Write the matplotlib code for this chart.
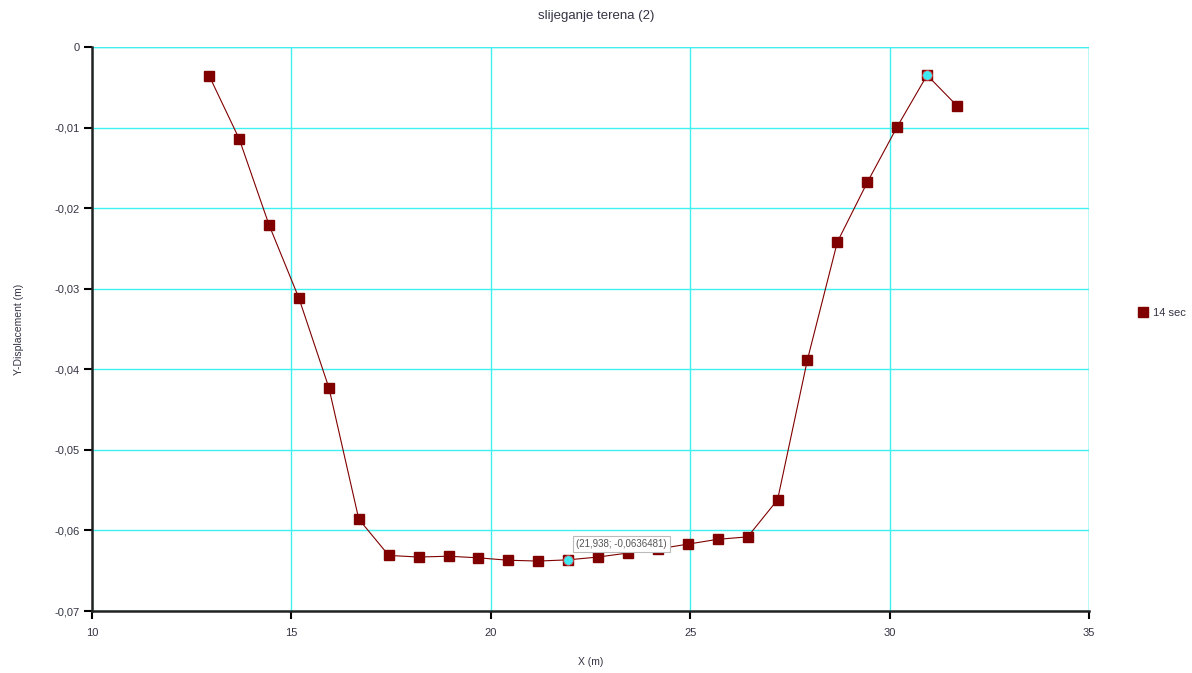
import matplotlib.pyplot as plt

plt.rcParams["font.family"] = ["Liberation Sans", "DejaVu Sans"]

x_m = [12.94, 13.69, 14.44, 15.19, 15.94, 16.69, 17.44, 18.19, 18.94, 19.69,
       20.44, 21.19, 21.938, 22.69, 23.44, 24.19, 24.94, 25.69, 26.44, 27.19,
       27.94, 28.69, 29.44, 30.19, 30.94, 31.69]
y_disp = [-0.0036, -0.0114, -0.0221, -0.0312, -0.0423, -0.0586, -0.0631, -0.0633,
          -0.0632, -0.0634, -0.0637, -0.0638, -0.0636481, -0.0633, -0.0628, -0.0623,
          -0.0617, -0.0611, -0.0608, -0.0562, -0.0388, -0.0242, -0.0168, -0.0099,
          -0.0035, -0.0073]
highlight = [12, 24]
x_ticks = [10, 15, 20, 25, 30, 35]
y_ticks = [0, -0.01, -0.02, -0.03, -0.04, -0.05, -0.06, -0.07]

fig = plt.figure(figsize=(11.92, 6.73), dpi=100)
ax = fig.add_axes([0.0772, 0.0921, 0.8364, 0.8381])

ax.plot(x_m, y_disp, color="#800000", lw=0.8, marker="s", markersize=7.2,
        markerfacecolor="#800000", markeredgecolor="#800000", label="14 sec",
        zorder=3)
for i in highlight:
    ax.plot(x_m[i], y_disp[i], marker="o", markersize=7, color="#40e8f0",
            markeredgecolor="#e04040", markeredgewidth=0.6, zorder=4)

i = highlight[0]
ax.annotate(f"({x_m[i]:.3f}; {y_disp[i]:.7f})".replace(".", ","),
            xy=(x_m[i] + 0.15, y_disp[i] + 0.0005), xytext=(x_m[i] + 0.2, y_disp[i] + 0.0016),
            fontsize=7, color="#555555", zorder=5,
            bbox=dict(boxstyle="square,pad=0.3", fc="white", ec="#bbbbbb", lw=0.8))

ax.set_xlim(10, 35)
ax.set_ylim(-0.07, 0)
ax.set_xticks(x_ticks)
ax.set_yticks(y_ticks)
ax.set_xticklabels([str(t) for t in x_ticks])
ax.set_yticklabels(["0" if t == 0 else f"{t:.2f}".replace(".", ",") for t in y_ticks])
ax.grid(True, color="#40f0f0", lw=1.0)
ax.set_axisbelow(True)
for s in ["top", "right"]:
    ax.spines[s].set_visible(False)
for s in ["left", "bottom"]:
    ax.spines[s].set_linewidth(1.8)
    ax.spines[s].set_color("#222222")
ax.axhline(0, color="#40f0f0", lw=1.0, zorder=0.5)
ax.axvline(35, color="#40f0f0", lw=1.0, zorder=0.5)
ax.tick_params(direction="out", length=6, width=1.5, labelsize=8,
               labelcolor="#333344")
ax.tick_params(axis="x", pad=6)
ax.tick_params(axis="y", pad=3)

ax.set_xlabel("X (m)", fontsize=7.5, color="#333344", labelpad=14)
ax.set_ylabel("Y-Displacement (m)", fontsize=7.5, color="#333344", labelpad=22)
fig.suptitle("slijeganje terena (2)", fontsize=9.5, color="#333344", y=0.985)

ax.legend(loc="center left", bbox_to_anchor=(1.04, 0.528), frameon=False,
          fontsize=8, handlelength=0.8, handletextpad=0.5, numpoints=1,
          labelcolor="#333344")

fig.savefig("out.png", dpi=100)
